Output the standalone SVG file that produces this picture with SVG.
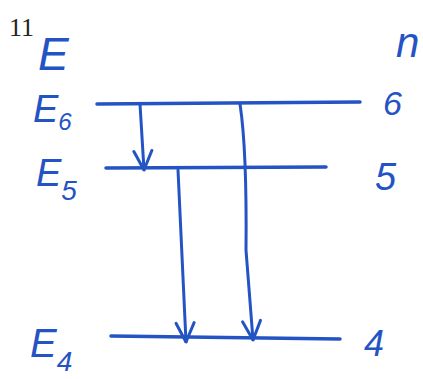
<svg xmlns="http://www.w3.org/2000/svg" width="423" height="379" viewBox="0 0 423 379">
<style>
.lvl{stroke:#2454c4;stroke-width:3.5;stroke-linecap:round;fill:none}
.arr{stroke:#2454c4;stroke-width:3;fill:none;stroke-linecap:round}
.lab{fill:#2454c4;font-family:"Liberation Sans",Arial,sans-serif;font-style:italic}
.num{fill:#222;font-family:"Liberation Serif","Times New Roman",serif}
</style>
<defs>
<marker id="ah" viewBox="0 0 22 22" refX="21" refY="11" markerWidth="22" markerHeight="22" markerUnits="userSpaceOnUse" orient="auto">
<path d="M2,2 L21,11 L2,20" fill="none" stroke="#2454c4" stroke-width="3" stroke-linecap="round" stroke-linejoin="round"/>
</marker>
</defs>
<rect width="423" height="379" fill="#fff"/>
<text class="num" x="9" y="36" font-size="26">11</text>
<text class="lab" x="38" y="70" font-size="46">E</text>
<text class="lab" x="396" y="57" font-size="42">n</text>
<g id="level6">
<path class="lvl" d="M97,104 L360,102"/>
<text class="lab" x="33" y="122" font-size="38">E<tspan font-size="24" dy="8">6</tspan></text>
<text class="lab" x="383" y="115" font-size="34">6</text>
</g>
<g id="level5">
<path class="lvl" d="M106,168 L326,167"/>
<text class="lab" x="36" y="186" font-size="38">E<tspan font-size="28" dy="14">5</tspan></text>
<text class="lab" x="375" y="190" font-size="38">5</text>
</g>
<g id="level4">
<path class="lvl" d="M111,336 L340,339"/>
<text class="lab" x="30" y="357" font-size="40">E<tspan font-size="28" dy="14">4</tspan></text>
<text class="lab" x="364" y="356" font-size="36">4</text>
</g>
<g id="connectors">
<path class="arr" d="M140,104 L144,170" marker-end="url(#ah)"/>
<path class="arr" d="M178,170 L186,342" marker-end="url(#ah)"/>
<path class="arr" d="M240,104 Q247,150 246,250 L253,340" marker-end="url(#ah)"/>
</g>
</svg>
